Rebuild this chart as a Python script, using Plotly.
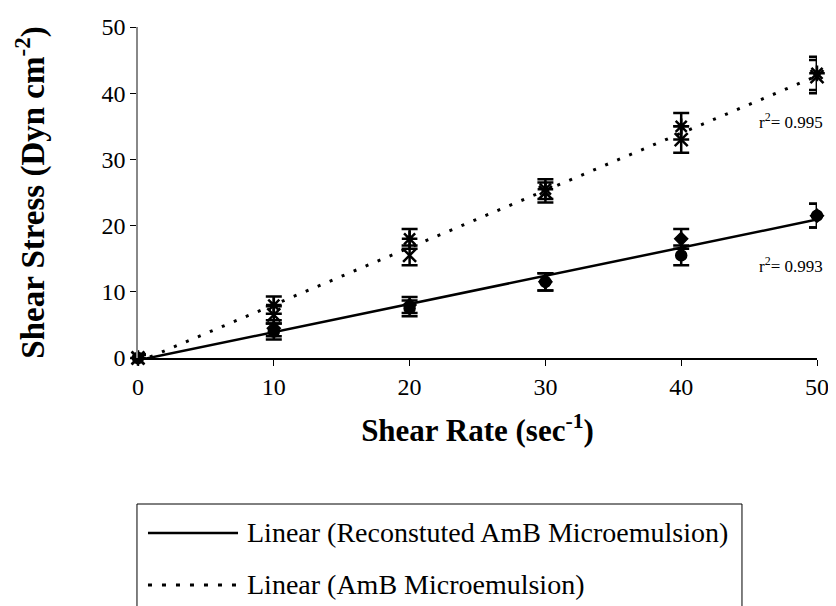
import numpy as np
import plotly.graph_objects as go

shear_rate = [0, 10, 20, 30, 40, 50]
rec_diamond = [0, 4.5, 8.0, 11.5, 18.0, 21.5]
rec_circle = [0, 4.0, 7.5, 11.5, 15.5, 21.5]
rec_err = [0.5, 1.2, 1.2, 1.3, 1.5, 1.8]
amb_star = [0, 8.0, 18.0, 25.5, 35.0, 43.0]
amb_x = [0, 6.5, 15.5, 25.0, 33.0, 42.5]
amb_err = [0.5, 1.3, 1.5, 1.5, 2.0, 2.5]
legend_names = ["Linear (Reconstuted AmB Microemulsion)", "Linear (AmB Microemulsion)"]
r2_rec = "r<sup>2</sup>= 0.993"
r2_amb = "r<sup>2</sup>= 0.995"

FONT = "Liberation Serif, Times New Roman, serif"
fig = go.Figure()

def pts(y, sym, err, size=11, lw=1.5):
    fig.add_trace(go.Scatter(
        x=shear_rate, y=y, mode="markers", showlegend=False, cliponaxis=False,
        marker=dict(symbol=sym, size=size, color="black", line=dict(color="black", width=lw)),
        error_y=dict(type="data", array=err, color="black", thickness=2.5, width=8)))

pts(rec_diamond, "diamond", rec_err, size=10)
pts(rec_circle, "circle", rec_err)
pts(amb_star, "asterisk-open", amb_err, size=13, lw=2.5)
pts(amb_x, "x-thin-open", amb_err, size=13, lw=2.5)

xs = np.array(shear_rate * 2, dtype=float)
fit_x = np.array([0, 50], dtype=float)
ry = np.array(rec_diamond + rec_circle)
ay = np.array(amb_star + amb_x)
rs, ri = np.polyfit(xs, ry, 1)
as_, ai = np.polyfit(xs, ay, 1)

SOLID = dict(color="black", width=2.5)
DOTTED = dict(color="black", width=3, dash="3px,10px")

fig.add_trace(go.Scatter(x=fit_x, y=rs * fit_x + ri, mode="lines",
                         name=legend_names[0], showlegend=False, line=SOLID))
fig.add_trace(go.Scatter(x=fit_x, y=as_ * fit_x + ai, mode="lines",
                         name=legend_names[1], showlegend=False, line=DOTTED))

fig.add_annotation(x=45.6, y=35.8, xref="x", yref="y", text=r2_amb, showarrow=False,
                   xanchor="left", font=dict(family=FONT, size=17, color="black"))
fig.add_annotation(x=45.6, y=14.0, xref="x", yref="y", text=r2_rec, showarrow=False,
                   xanchor="left", font=dict(family=FONT, size=17, color="black"))

# legend box (drawn manually so it does not push the plot margins)
fig.add_shape(type="rect", xref="paper", yref="paper",
              x0=-0.0015, x1=0.8895, y0=-0.4411, y1=-0.80,
              line=dict(color="black", width=1), fillcolor="white", layer="below")
rows_y = [-0.5287, -0.6858]
for name, style, ry_ in zip(legend_names, [SOLID, DOTTED], rows_y):
    st = dict(style)
    if "dash" in st:
        st["dash"] = "4px,10px"
    fig.add_shape(type="line", xref="paper", yref="paper",
                  x0=0.0147, x1=0.1473, y0=ry_, y1=ry_, line=st)
    fig.add_annotation(x=0.1576, y=ry_, xref="paper", yref="paper", text=name,
                       showarrow=False, xanchor="left", yanchor="middle",
                       font=dict(family=FONT, size=28, color="black"))

fig.update_layout(
    width=828, height=598,
    margin=dict(l=130, r=19, t=19, b=248, autoexpand=False),
    paper_bgcolor="white", plot_bgcolor="white",
    font=dict(family=FONT, color="black"),
    showlegend=False,
    xaxis=dict(range=[0, 50], tickvals=shear_rate, showgrid=False, zeroline=False,
               showline=True, linecolor="black", linewidth=1.5, automargin=False,
               ticks="outside", ticklen=6, tickcolor="black",
               tickfont=dict(family=FONT, size=24),
               title=dict(text="<b>Shear Rate (sec<sup>-1</sup>)</b>",
                          font=dict(family=FONT, size=31), standoff=21)),
    yaxis=dict(range=[0, 50], dtick=10, showgrid=False, zeroline=False,
               showline=True, linecolor="#888", linewidth=1.5, automargin=False,
               ticks="outside", ticklen=6, tickcolor="black",
               tickfont=dict(family=FONT, size=24),
               title=dict(text="<b>Shear Stress (Dyn cm<sup>-2</sup>)</b>",
                          font=dict(family=FONT, size=33), standoff=47)),
)

fig.write_html("out.html")
